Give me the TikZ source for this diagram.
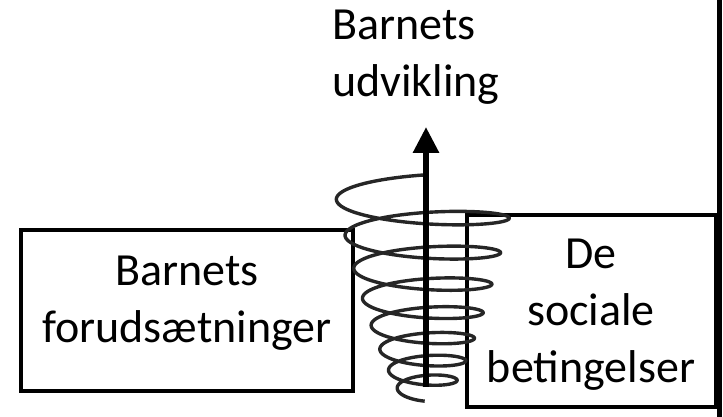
\documentclass[tikz,border=0pt]{standalone}
\usepackage{fontspec}
\setmainfont{Carlito}
\usetikzlibrary{arrows.meta}
\begin{document}
\begin{tikzpicture}[x=1pt,y=-1pt,
  labeltext/.style={font=\fontsize{46}{57}\selectfont, inner sep=0pt, text=black},
  framebox/.style={draw=black, line width=3.3pt},
  spiralline/.style={draw=black!85, line width=3.4pt, line join=round},
  growth/.style={draw=black, line width=6pt, -{Triangle[length=26pt,width=25pt]}}]
\useasboundingbox (0,0) rectangle (723,417);
% frames
\draw[framebox] (21,230) rectangle (353,391);
\draw[framebox] (467,215) rectangle (716,407);
\draw[line width=5pt] (719,0) -- (719,417);
% spiral
\draw[spiralline] plot[domain=0.25:7.75, samples=700, variable=\u, smooth]
  ({425 + (93 - 8.7*\u)*cos(360*\u)},
   {218 + 36*(\u-1) - 1.5*(\u-1)*(\u-1) - (15.5 - 0.9*\u)*sin(360*\u)});
% arrow
\coordinate (arrowbase) at (426,387);
\coordinate (arrowtip) at (426,127);
\draw[growth] (arrowbase) -- (arrowtip);
% texts
\node[labeltext, align=left, anchor=base west] (outcome) at (332,97) {Barnets\\udvikling};
\node[labeltext, align=center, anchor=base] (child) at (187,342) {Barnets\\forudsætninger};
\node[labeltext, align=center, anchor=base] (social) at (591,382) {De\\sociale\\betingelser};
\end{tikzpicture}
\end{document}
